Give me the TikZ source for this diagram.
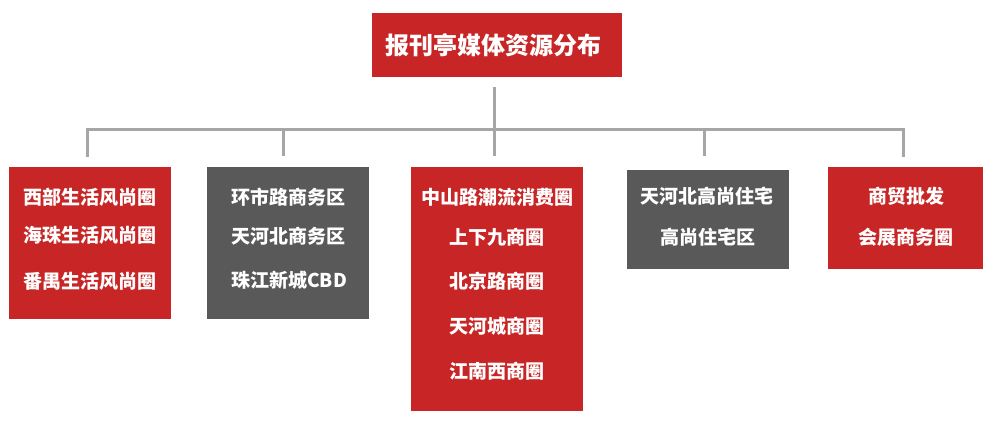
\documentclass[tikz,border=0pt]{standalone}
\usepackage{fontspec}
\newfontfamily\cjk{Noto Sans CJK SC}
\definecolor{boxred}{HTML}{C82626}
\definecolor{boxgray}{HTML}{595959}
\definecolor{linegray}{HTML}{A6A6A6}
\begin{document}
\begin{tikzpicture}[x=1pt,y=-1pt,
  box/.style={anchor=north west,inner sep=0pt,outer sep=0pt},
  txt/.style={text=white,font=\cjk\bfseries\fontsize{19}{21}\selectfont,inner sep=0pt},
  conn/.style={draw=linegray,line width=3pt}]
\useasboundingbox (0,0) rectangle (996,422);
% title
\node[box,fill=boxred,minimum width=250pt,minimum height=64pt] (title) at (372,13) {};
\node[text=white,font=\cjk\bfseries\fontsize{24}{27}\selectfont,inner sep=0pt] at (493,45) {报刊亭媒体资源分布};
% boxes
\node[box,fill=boxred,minimum width=162pt,minimum height=152pt] (b1) at (9,167) {};
\node[box,fill=boxgray,minimum width=162pt,minimum height=152pt] (b2) at (207,167) {};
\node[box,fill=boxred,minimum width=172pt,minimum height=244pt] (b3) at (411,167) {};
\node[box,fill=boxgray,minimum width=162pt,minimum height=99pt] (b4) at (627,170) {};
\node[box,fill=boxred,minimum width=155pt,minimum height=102pt] (b5) at (828,167) {};
% texts
\node[txt] (t11) at (90,197) {西部生活风尚圈};
\node[txt] (t12) at (90,235) {海珠生活风尚圈};
\node[txt] (t13) at (90,281) {番禺生活风尚圈};
\node[txt] (t21) at (288,197) {环市路商务区};
\node[txt] (t22) at (288,236) {天河北商务区};
\node[txt] (t23) at (289,280) {珠江新城CBD};
\node[txt] (t31) at (497,197) {中山路潮流消费圈};
\node[txt] (t32) at (497,237) {上下九商圈};
\node[txt] (t33) at (497,281) {北京路商圈};
\node[txt] (t34) at (497,326) {天河城商圈};
\node[txt] (t35) at (497,371) {江南西商圈};
\node[txt] (t41) at (707,196) {天河北高尚住宅};
\node[txt] (t42) at (708,237) {高尚住宅区};
\node[txt] (t51) at (906,196) {商贸批发};
\node[txt] (t52) at (906,237) {会展商务圈};
% connectors
\coordinate (top) at (494,87);
\coordinate (hub) at (494,130);
\coordinate (L) at (87,130);
\coordinate (R) at (903,130);
\coordinate (d1) at (87,156);
\coordinate (d2) at (283,156);
\coordinate (d3) at (494,156);
\coordinate (d4) at (704,156);
\coordinate (d5) at (903,156);
\draw[conn] (top) -- (hub);
\draw[conn,line cap=rect] (d1) -- (L) -- (R) -- (d5);
\draw[conn] (d2 |- hub) -- (d2);
\draw[conn] (hub) -- (d3);
\draw[conn] (d4 |- hub) -- (d4);
\end{tikzpicture}
\end{document}
